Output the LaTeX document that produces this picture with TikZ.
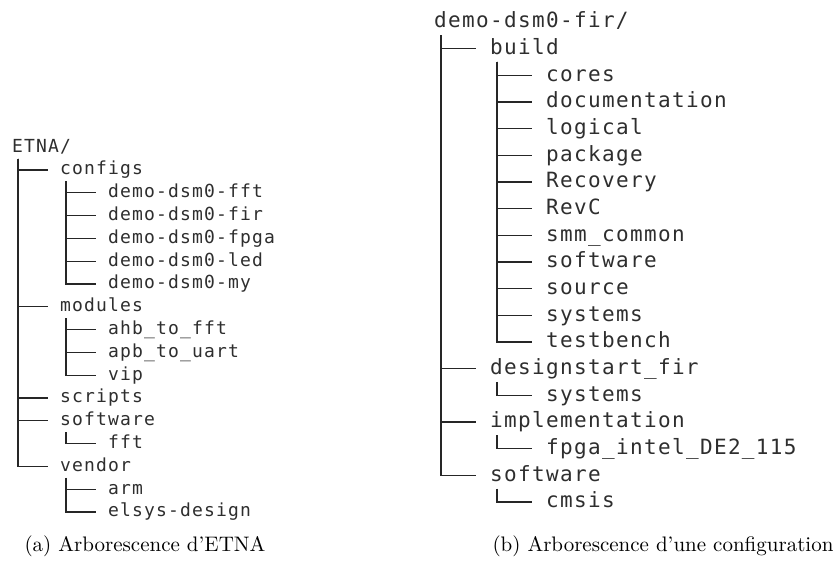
\documentclass[tikz,border=0pt]{standalone}
\usepackage{fontspec}
\newfontfamily\treefont{DejaVu Sans Mono}[LetterSpace=6.4]
\newfontfamily\capfont{lmroman10-regular}[Extension=.otf, Ligatures=TeX]

\begin{document}
\begin{tikzpicture}[x=1pt, y=-1pt,
  lf/.style={anchor=base west, inner sep=0pt, text=black!82, font=\treefont\fontsize{18}{22}\selectfont},
  rt/.style={anchor=base west, inner sep=0pt, text=black!82, font=\treefont\fontsize{21}{25}\selectfont},
  lline/.style={line width=1.3pt, black!85},
  rline/.style={line width=1.5pt, black!85},
  capt/.style={anchor=base, inner sep=0pt, font=\capfont\fontsize{21}{25}\selectfont}]
\useasboundingbox (0,0) rectangle (836,567);
% left tree
\node[lf] (etna) at (12,152.1) {ETNA/};
\node[lf] (configs) at (60,174.9) {configs};
\node[lf] (fft) at (108,197.7) {demo-dsm0-fft};\node[lf] (fir) at (108,220.5) {demo-dsm0-fir};
\node[lf] (fpga) at (108,243.3) {demo-dsm0-fpga};\node[lf] (led) at (108,266.1) {demo-dsm0-led};
\node[lf] (my) at (108,288.9) {demo-dsm0-my};
\node[lf] (modules) at (60,311.7) {modules};
\node[lf] (ahb) at (108,334.5) {ahb\_to\_fft};\node[lf] (apb) at (108,357.3) {apb\_to\_uart};
\node[lf] (vip) at (108,380.1) {vip};
\node[lf] (scripts) at (60,402.9) {scripts};
\node[lf] (lsw) at (60,425.7) {software};\node[lf] (lswfft) at (108,448.5) {fft};
\node[lf] (vendor) at (60,471.3) {vendor};
\node[lf] (arm) at (108,494.1) {arm};\node[lf] (elsys) at (108,516.9) {elsys-design};
\foreach \p/\c in {etna/configs, etna/modules, etna/scripts, etna/lsw, etna/vendor,
    configs/fft, configs/fir, configs/fpga, configs/led, configs/my,
    modules/ahb, modules/apb, modules/vip, lsw/lswfft, vendor/arm, vendor/elsys}
  \draw[lline] ([xshift=6pt,yshift=-6.5pt]\p.base west) |- ([xshift=-12pt,yshift=4.9pt]\c.base west);
% right tree
\node[rt] (root) at (434,27.7) {demo-dsm0-fir/};
\node[rt] (build) at (490,54.4) {build};
\node[rt] (cores) at (546,81.1) {cores};\node[rt] (doc) at (546,107.7) {documentation};
\node[rt] (logical) at (546,134.4) {logical};\node[rt] (package) at (546,161.1) {package};
\node[rt] (recovery) at (546,187.7) {Recovery};\node[rt] (revc) at (546,214.4) {RevC};
\node[rt] (smm) at (546,241.1) {smm\_common};\node[rt] (bsw) at (546,267.7) {software};
\node[rt] (source) at (546,294.4) {source};\node[rt] (bsys) at (546,321.1) {systems};
\node[rt] (testbench) at (546,347.7) {testbench};
\node[rt] (dsfir) at (490,374.4) {designstart\_fir};\node[rt] (dsys) at (546,401.1) {systems};
\node[rt] (impl) at (490,427.7) {implementation};\node[rt] (de2) at (546,454.4) {fpga\_intel\_DE2\_115};
\node[rt] (rsw) at (490,481.1) {software};\node[rt] (cmsis) at (546,507.7) {cmsis};
\foreach \p/\c in {root/build, root/dsfir, root/impl, root/rsw,
    build/cores, build/doc, build/logical, build/package, build/recovery, build/revc,
    build/smm, build/bsw, build/source, build/bsys, build/testbench,
    dsfir/dsys, impl/de2, rsw/cmsis}
  \draw[rline] ([xshift=7pt,yshift=-7.5pt]\p.base west) |- ([xshift=-14pt,yshift=5.7pt]\c.base west);
% captions
\node[capt] (capa) at (145,551) {(a) Arborescence d'ETNA};
\node[capt] (capb) at (663,551) {(b) Arborescence d'une configuration};
\end{tikzpicture}
\end{document}
